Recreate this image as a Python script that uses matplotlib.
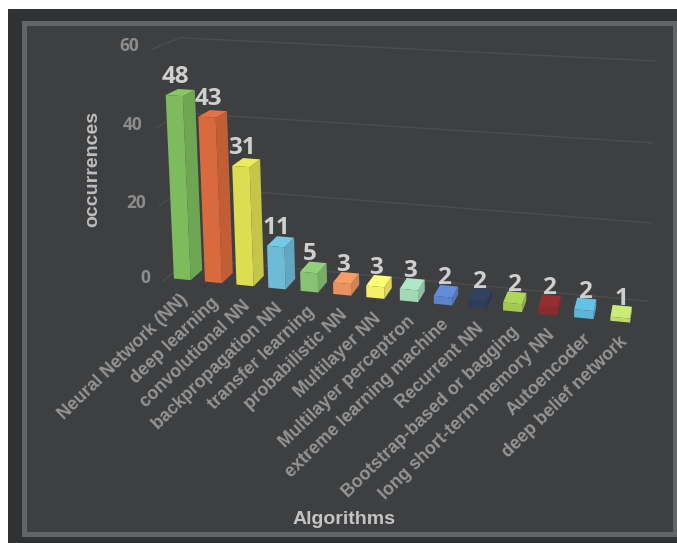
import numpy as np
import matplotlib
matplotlib.use('Agg')
import matplotlib.pyplot as plt
from matplotlib.patches import Polygon, Rectangle

algorithms = ['Neural Network (NN)', 'deep learning', 'convolutional NN', 'backpropagation NN',
              'transfer learning', 'probabilistic NN', 'Multilayer NN', 'Multilayer perceptron',
              'extreme learning machine', 'Recurrent NN', 'Bootstrap-based or bagging',
              'long short-term memory NN', 'Autoencoder', 'deep belief network']
occurrences = [48, 43, 31, 11, 5, 3, 3, 3, 2, 2, 2, 2, 2, 1]
y_ticks = [0, 20, 40, 60]
front_colors = ['#7DBB5D', '#D96A3D', '#DDDD52', '#6EBBD8', '#88C274', '#E8935F', '#F7ED6D',
                '#A3D8B5', '#5C84CC', '#2E3E58', '#A2C951', '#8A2C2E', '#5FB5D6', '#BFDC6E']

HW = 0.27
# camera for the fake 3d look: (category, depth, value) -> pixels
CAM = np.array([[29.8790891, 16.0766877, -0.2615056, 182.2921994],
                [1.2806624, -3.893994, -3.8796921, 279.3636185],
                [-0.0061374, 0.022954, -0.0005383, 1.0]])

def project(x, d, v):
    p = CAM @ np.array([x, d, v, 1.0])
    return p[0]/p[2], p[1]/p[2]

def shade(color, f):
    c = np.array(matplotlib.colors.to_rgb(color))
    return tuple(np.clip(c*f, 0, 1))

fig = plt.figure(figsize=(6.77, 5.43), dpi=100, facecolor='white')
ax = fig.add_axes([0, 0, 1, 1])
ax.set_xlim(0, 677)
ax.set_ylim(543, 0)
ax.axis('off')

ax.add_patch(Rectangle((8, 9), 669, 534, fc='#303133', ec='none', zorder=0))
ax.add_patch(Rectangle((23.5, 22.5), 651, 511, fc='#3E3F41', ec='#636466', lw=3.6, zorder=0))

X0, X1 = -0.5, 13.7
D0, D1 = -0.35, 1.95
GRID = '#4C4D4F'
for t in y_ticks:
    a = project(X0, D0, t); b = project(X0, D1, t); c = project(X1, D1, t)
    ax.plot([a[0], b[0], c[0]], [a[1], b[1], c[1]], color=GRID, lw=1, zorder=0.5)
    ax.annotate(str(t), a, xytext=(-12.5, 3), textcoords='offset pixels', ha='right', va='center',
                color='#8C8C8C', fontsize=12.5, fontweight='bold', family='Open Sans')

for i, (val, col) in enumerate(zip(occurrences, front_colors)):
    l, r = i-HW, i+HW
    faces = [
        ([(r, 0, 0), (r, 1, 0), (r, 1, val), (r, 0, val)], 0.89),
        ([(l, 0, val), (r, 0, val), (r, 1, val), (l, 1, val)], 1.07),
        ([(l, 0, 0), (r, 0, 0), (r, 0, val), (l, 0, val)], 1.0),
    ]
    for pts, f in faces:
        ax.add_patch(Polygon([project(*p) for p in pts], closed=True, fc=shade(col, f), ec='none'))
    ax.annotate(str(val), project(i, 0, val), xytext=(1, 12.5), textcoords='offset pixels', ha='center',
                va='baseline', color='#CFCFCF', fontsize=17.5, fontweight='bold', family='Open Sans')
    ax.annotate(algorithms[i], project(i, -0.2, 0), xytext=(-1, -9.5), textcoords='offset pixels', ha='right',
                va='top', rotation=44, rotation_mode='anchor', color='#959595', fontsize=12.8,
                fontweight='bold', family='Liberation Sans')

ax.text(93, 169, 'occurrences', rotation=90, ha='center', va='center', color='#BDBDBD', fontsize=14,
        fontweight='bold', family='Liberation Sans')
ax.text(344, 519, 'Algorithms', ha='center', va='center', color='#C4C4C4', fontsize=14,
        fontweight='bold', family='Liberation Sans')

fig.savefig('out.png', dpi=100)
